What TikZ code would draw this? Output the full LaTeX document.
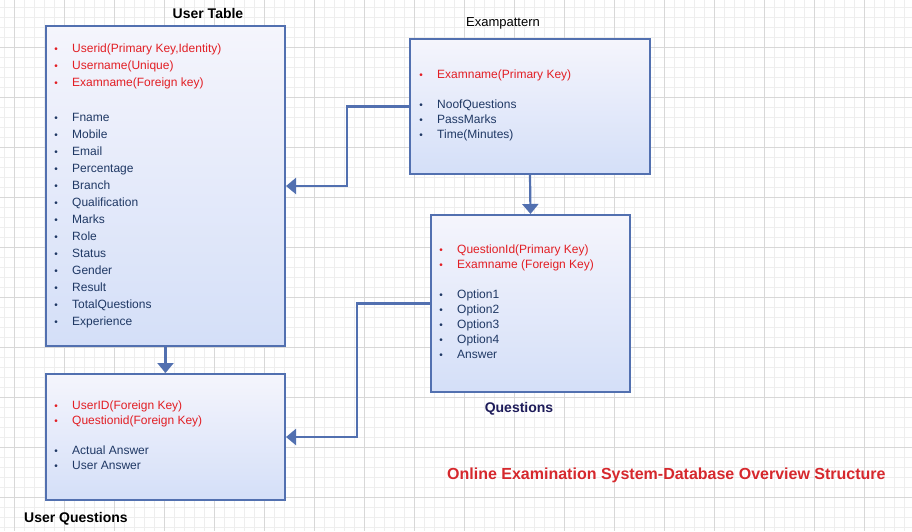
\documentclass[tikz,border=0pt]{standalone}
\usepackage{fontspec}
\setmainfont{Liberation Sans}
\usetikzlibrary{arrows.meta}
\definecolor{gridminor}{RGB}{238,238,238}
\definecolor{gridmajor}{RGB}{216,216,216}
\definecolor{edgeblue}{RGB}{82,112,176}
\definecolor{keyred}{RGB}{226,30,36}
\definecolor{fieldblue}{RGB}{31,56,100}
\definecolor{titlenavy}{RGB}{30,28,90}
\definecolor{titlered}{RGB}{214,40,45}
\definecolor{boxtop}{RGB}{245,245,252}
\definecolor{boxbot}{RGB}{212,223,248}
\newcommand\fld[5]{%
  \node[fieldtxt, text=#4] (#1) at (#2+16,#3+4.3) {#5};
  \node[bul, text=#4] (#1b) at (#2,#3+4.3) {•};}
\begin{document}
\begin{tikzpicture}[x=1pt,y=-1pt,
  tbl/.style={draw=edgeblue, line width=2pt, top color=boxtop, bottom color=boxbot, inner sep=0pt, anchor=north west},
  conn/.style={draw=edgeblue, line width=2.2pt, -{Triangle[width=16pt,length=10pt]}},
  fieldtxt/.style={anchor=base west, inner sep=0pt, font=\fontsize{12}{14}\selectfont},
  bul/.style={anchor=base, inner sep=0pt, font=\fontsize{10}{12}\selectfont},
  ttl/.style={inner sep=0pt, font=\fontsize{14}{16}\selectfont\bfseries}]
\useasboundingbox (0,0) rectangle (912,531);
\fill[white] (0,0) rectangle (912,531);
% grid
\foreach \i in {0,...,91} \draw[gridminor, line width=0.8pt] (4.3+10*\i,0) -- (4.3+10*\i,531);
\foreach \i in {0,...,53} \draw[gridminor, line width=0.8pt] (0,7.3+10*\i) -- (912,7.3+10*\i);
\foreach \i in {0,...,18} \draw[gridmajor, line width=0.8pt] (14.3+50*\i,0) -- (14.3+50*\i,531);
\foreach \i in {0,...,10} \draw[gridmajor, line width=0.8pt] (0,47.3+50*\i) -- (912,47.3+50*\i);

% boxes
\node[tbl, minimum width=239pt, minimum height=320pt] (user) at (45,25) {};
\node[tbl, minimum width=240pt, minimum height=135pt] (exam) at (409,38) {};
\node[tbl, minimum width=199pt, minimum height=177pt] (ques) at (430,214) {};
\node[tbl, minimum width=239pt, minimum height=126pt] (uq) at (45,373) {};

% connectors
\draw[conn] (exam.west) -- ++(-62,0) |- (user.east);
\draw[conn] (exam.south) -- (ques.north);
\draw[conn] (ques.west) -- ++(-73,0) |- (uq.east);
\draw[conn] (user.south) -- (uq.north);

% titles
\node[ttl] (tuser) at (208,13) {User Table};
\node[inner sep=0pt, font=\fontsize{13}{15}\selectfont] (texam) at (503,23) {Exampattern};
\node[ttl, text=titlenavy] (tques) at (519,409) {Questions};
\node[ttl, anchor=west] (tuq) at (24,519) {User Questions};
\node[inner sep=0pt, anchor=west, text=titlered, font=\fontsize{16}{18}\selectfont\bfseries] (main) at (447,475) {Online Examination System-Database Overview Structure};

% User Table fields
\fld{u1}{56}{48}{keyred}{Userid(Primary Key,Identity)}
\fld{u2}{56}{65}{keyred}{Username(Unique)}
\fld{u3}{56}{82}{keyred}{Examname(Foreign key)}
\fld{u4}{56}{117}{fieldblue}{Fname}
\fld{u5}{56}{134}{fieldblue}{Mobile}
\fld{u6}{56}{151}{fieldblue}{Email}
\fld{u7}{56}{168}{fieldblue}{Percentage}
\fld{u8}{56}{185}{fieldblue}{Branch}
\fld{u9}{56}{202}{fieldblue}{Qualification}
\fld{u10}{56}{219}{fieldblue}{Marks}
\fld{u11}{56}{236}{fieldblue}{Role}
\fld{u12}{56}{253}{fieldblue}{Status}
\fld{u13}{56}{270}{fieldblue}{Gender}
\fld{u14}{56}{287}{fieldblue}{Result}
\fld{u15}{56}{304}{fieldblue}{TotalQuestions}
\fld{u16}{56}{321}{fieldblue}{Experience}

% Exampattern fields
\fld{e1}{421}{74}{keyred}{Examname(Primary Key)}
\fld{e2}{421}{104}{fieldblue}{NoofQuestions}
\fld{e3}{421}{119}{fieldblue}{PassMarks}
\fld{e4}{421}{134}{fieldblue}{Time(Minutes)}

% Questions fields
\fld{q1}{441}{249}{keyred}{QuestionId(Primary Key)}
\fld{q2}{441}{264}{keyred}{Examname (Foreign Key)}
\fld{q3}{441}{294}{fieldblue}{Option1}
\fld{q4}{441}{309}{fieldblue}{Option2}
\fld{q5}{441}{324}{fieldblue}{Option3}
\fld{q6}{441}{339}{fieldblue}{Option4}
\fld{q7}{441}{354}{fieldblue}{Answer}

% User Questions fields
\fld{a1}{56}{405}{keyred}{UserID(Foreign Key)}
\fld{a2}{56}{420}{keyred}{Questionid(Foreign Key)}
\fld{a3}{56}{450}{fieldblue}{Actual Answer}
\fld{a4}{56}{465}{fieldblue}{User Answer}
\end{tikzpicture}
\end{document}
